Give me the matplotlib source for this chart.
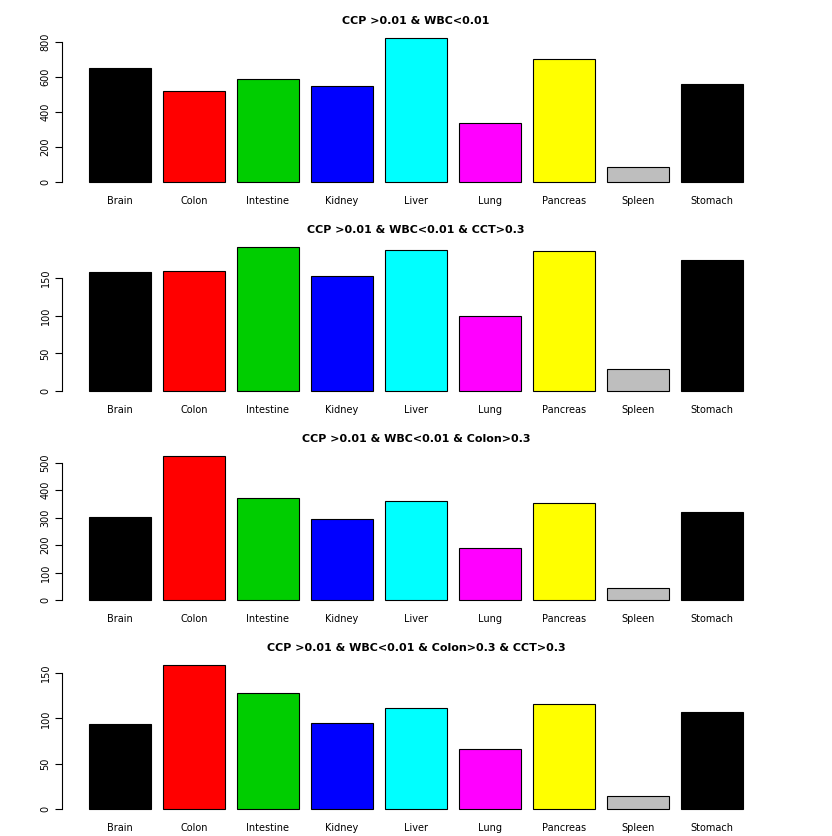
import matplotlib
matplotlib.use("Agg")
import matplotlib.pyplot as plt
import numpy as np

tissues = ["Brain", "Colon", "Intestine", "Kidney", "Liver", "Lung", "Pancreas", "Spleen", "Stomach"]
colors = ["black", "red", "#00CD00", "blue", "cyan", "magenta", "yellow", "#BEBEBE", "black"]

titles = [
    "CCP >0.01 & WBC<0.01",
    "CCP >0.01 & WBC<0.01 & CCT>0.3",
    "CCP >0.01 & WBC<0.01 & Colon>0.3",
    "CCP >0.01 & WBC<0.01 & Colon>0.3 & CCT>0.3",
]
counts_all = [651, 520, 589, 549, 823, 337, 703, 86, 560]
counts_cct = [158, 159, 191, 153, 187, 99, 186, 29, 174]
counts_colon = [301, 525, 370, 297, 362, 188, 355, 43, 319]
counts_colon_cct = [94, 159, 128, 95, 111, 66, 116, 15, 107]
panels = [counts_all, counts_cct, counts_colon, counts_colon_cct]
yticks = [np.arange(0, 801, 200), np.arange(0, 151, 50), np.arange(0, 501, 100), np.arange(0, 151, 50)]

W, H = 832, 836
fig = plt.figure(figsize=(W / 100, H / 100), dpi=100)
baselines = [182, 391, 600, 809]

x = 0.2 + np.arange(len(tissues)) * 1.2 + 0.5
for vals, title, ticks, base in zip(panels, titles, yticks, baselines):
    ymax = max(vals)
    h_px = 156
    bottom_px = base + 6
    ax = fig.add_axes([63 / W, 1 - bottom_px / H, (769 - 63) / W, h_px / H])
    ax.bar(x, vals, width=1.0, color=colors, edgecolor="black", linewidth=0.8)
    ax.set_xlim(-0.224, 11.224)
    ax.set_ylim(-0.04 * ymax, 1.04 * ymax)
    for s in ["top", "right", "bottom"]:
        ax.spines[s].set_visible(False)
    ax.spines["left"].set_bounds(0, ticks[-1])
    ax.spines["left"].set_position(("outward", 1))
    ax.set_yticks(ticks)
    ax.set_yticklabels([str(t) for t in ticks], rotation=90, va="center", fontsize=7)
    ax.tick_params(axis="y", length=5, pad=3)
    ax.set_xticks(x)
    ax.set_xticklabels(tissues, fontsize=7)
    ax.tick_params(axis="x", length=0, pad=6)
    ax.set_title(title, fontsize=8, fontweight="bold", pad=6)

fig.savefig("out.png", dpi=100, facecolor="white")
